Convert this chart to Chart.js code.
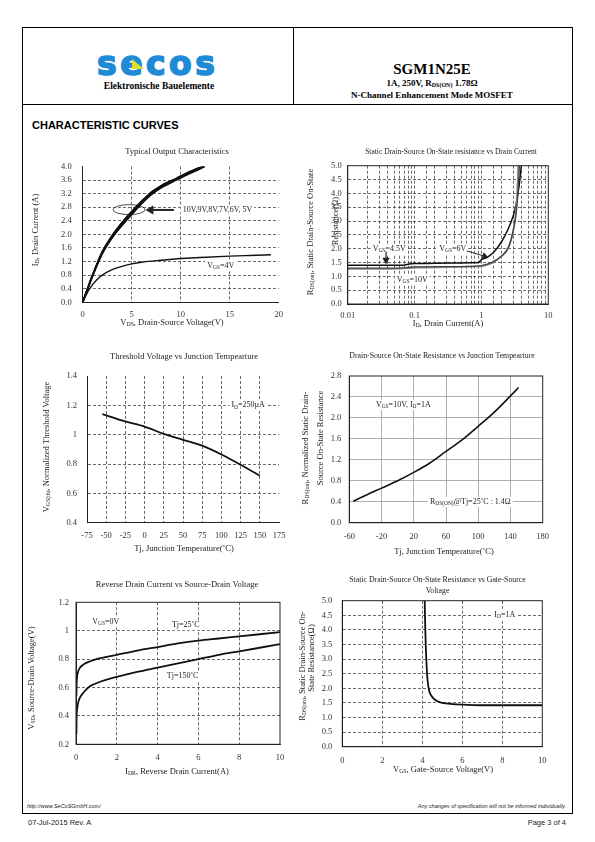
<!DOCTYPE html>
<html>
<head>
<meta charset="utf-8">
<script src="https://cdn.jsdelivr.net/npm/chart.js@4.4.1/dist/chart.umd.min.js"></script>
<style>
  html, body { margin: 0; padding: 0; background: #fff; }
  body { width: 595px; height: 842px; position: relative; overflow: hidden; font-family: "Liberation Serif", serif; color: #000; }
  .abs { position: absolute; white-space: nowrap; }
  .frame { left: 22px; top: 27px; width: 551px; height: 787px; border: 1px solid #000; box-sizing: border-box; }
  .hline { left: 22px; top: 104px; width: 551px; height: 1px; background: #000; }
  .vline { left: 293px; top: 27px; width: 1px; height: 78px; background: #000; }
  .logo { left: 97px; top: 47px; font-family: "DejaVu Sans", sans-serif; font-weight: bold; font-size: 33px; line-height: 33px; letter-spacing: 3.5px; color: #1f8ad6; -webkit-text-stroke: 1.6px #1f8ad6; }
  .tri { left: 132px; top: 59px; width: 12px; height: 10px; background: #e4dd2c; clip-path: polygon(0 0, 100% 100%, 0 100%); }
  .sub-logo { left: 159px; top: 86px; transform: translate(-50%, -50%); font-weight: bold; font-size: 9.5px; }
  .part { left: 432px; top: 69px; transform: translate(-50%, -50%); font-weight: bold; font-size: 15px; }
  .spec { left: 432px; transform: translate(-50%, -50%); font-weight: bold; font-size: 9px; }
  .spec sub { font-size: 6px; vertical-align: -1px; }
  .section { left: 32px; top: 119px; font-family: "Liberation Sans", sans-serif; font-weight: bold; font-size: 11px; }
  .foot-i { top: 803px; font-family: "Liberation Sans", sans-serif; font-style: italic; font-size: 5.5px; color: #222; }
  .foot { top: 818px; font-family: "Liberation Sans", sans-serif; font-size: 7.5px; color: #222; }
  canvas { position: absolute; }
</style>
</head>
<body>
<div class="abs frame"></div>
<div class="abs hline"></div>
<div class="abs vline"></div>
<div class="abs logo">secos</div>
<div class="abs tri"></div>
<div class="abs sub-logo">Elektronische Bauelemente</div>
<div class="abs part">SGM1N25E</div>
<div class="abs spec" style="top:83px">1A, 250V, R<sub>DS(ON)</sub> 1.78&Omega;</div>
<div class="abs spec" style="top:95px">N-Channel Enhancement Mode MOSFET</div>
<div class="abs section">CHARACTERISTIC CURVES</div>

<canvas id="c1"></canvas>
<canvas id="c2"></canvas>
<canvas id="c3"></canvas>
<canvas id="c4"></canvas>
<canvas id="c5"></canvas>
<canvas id="c6"></canvas>

<div class="abs foot-i" style="left:27px">http://www.SeCoSGmbH.com/</div>
<div class="abs foot-i" style="right:29px">Any changes of specification will not be informed individually.</div>
<div class="abs foot" style="left:28px">07-Jul-2015 Rev. A</div>
<div class="abs foot" style="right:29px">Page 3 of 4</div>

<script>
// ---------- data ----------
// Typical Output Characteristics (VDS in V, ID in A)
const vdsSat = [0, 1, 2, 3, 4, 5, 6, 7, 8, 9, 10, 11, 12, 12.4];
const id10V = [0, 0.80, 1.48, 1.93, 2.30, 2.63, 2.93, 3.18, 3.37, 3.52, 3.69, 3.85, 3.97, 4.00];
const id9V  = [0, 0.78, 1.45, 1.95, 2.33, 2.65, 2.96, 3.22, 3.40, 3.55, 3.70, 3.84, 3.96, 4.00];
const id8V  = [0, 0.80, 1.50, 1.97, 2.35, 2.68, 2.98, 3.24, 3.43, 3.57, 3.72, 3.86, 3.98, 4.00];
const id7V  = [0, 0.79, 1.46, 1.92, 2.28, 2.61, 2.95, 3.25, 3.42, 3.54, 3.66, 3.80, 3.93, 4.00];
const id6V  = [0, 0.77, 1.44, 1.90, 2.27, 2.60, 2.90, 3.20, 3.44, 3.58, 3.68, 3.82, 3.95, 4.00];
const id5V  = [0, 0.76, 1.43, 1.90, 2.26, 2.58, 2.90, 3.17, 3.38, 3.56, 3.71, 3.84, 3.96, 4.00];
const vdsLin = [0, 0.5, 1, 1.5, 2, 3, 4, 5, 6, 8, 10, 12, 15, 17, 19.2];
const id4V  = [0, 0.30, 0.52, 0.68, 0.80, 0.96, 1.06, 1.13, 1.18, 1.24, 1.29, 1.32, 1.36, 1.38, 1.40];

// On-resistance vs drain current (ID in A, RDS in ohm)
const idA45 = [0.01, 0.02, 0.04, 0.065, 0.08, 0.1, 0.2, 0.4, 0.7, 0.9, 1.0, 1.2, 1.5, 2.0, 2.5, 3.0, 3.3, 3.6, 3.95];
const rds45 = [1.40, 1.40, 1.40, 1.40, 1.44, 1.46, 1.47, 1.48, 1.49, 1.50, 1.60, 1.68, 1.85, 2.25, 2.70, 3.20, 3.60, 4.15, 5.00];
const idA6  = [0.01, 0.03, 0.06, 0.08, 0.1, 0.3, 0.7, 1.0, 1.3, 1.6, 2.0, 2.5, 2.8, 3.1, 3.35, 3.55, 3.7];
const rds6  = [1.30, 1.30, 1.30, 1.32, 1.34, 1.35, 1.36, 1.39, 1.46, 1.57, 1.74, 2.02, 2.36, 2.85, 3.40, 4.20, 5.00];
const idA10 = [0.01, 0.03, 0.06, 0.08, 0.1, 0.3, 0.7, 1.0, 1.3, 1.6, 2.0, 2.5, 2.8, 3.1, 3.3, 3.45, 3.55];
const rds10 = [1.27, 1.27, 1.28, 1.30, 1.32, 1.33, 1.35, 1.37, 1.44, 1.55, 1.72, 2.00, 2.35, 2.85, 3.40, 4.20, 5.00];
const logLabels = [0.01, 0.1, 1, 10];

// Threshold voltage vs junction temperature
const tjVth = [-55, -25, 0, 25, 50, 75, 100, 125, 150];
const vthNorm = [1.14, 1.09, 1.055, 1.005, 0.965, 0.925, 0.865, 0.795, 0.72];

// On-resistance vs junction temperature
const tjRds = [-55, -40, -20, 0, 20, 40, 60, 80, 100, 120, 140, 150];
const rdsNorm = [0.41, 0.52, 0.66, 0.80, 0.96, 1.14, 1.36, 1.58, 1.84, 2.11, 2.42, 2.58];

// Reverse drain current vs source-drain voltage
const idr = [0.02, 0.03, 0.05, 0.1, 0.2, 0.4, 0.7, 1, 1.5, 2, 3, 4, 5, 6, 7, 8, 9, 10];
const vsd25  = [0.54, 0.62, 0.67, 0.71, 0.74, 0.765, 0.785, 0.80, 0.815, 0.83, 0.86, 0.885, 0.91, 0.93, 0.945, 0.96, 0.975, 0.99];
const vsd150 = [0.27, 0.40, 0.44, 0.49, 0.53, 0.57, 0.61, 0.63, 0.655, 0.675, 0.71, 0.74, 0.77, 0.80, 0.83, 0.855, 0.88, 0.905];

// On-resistance vs gate-source voltage
const vgs = [4.12, 4.15, 4.2, 4.26, 4.35, 4.47, 4.65, 4.9, 5.4, 6, 7, 8, 9, 10];
const rdsVgs = [5.0, 4.0, 3.0, 2.3, 1.9, 1.73, 1.6, 1.52, 1.47, 1.44, 1.42, 1.42, 1.42, 1.42];

// ---------- helpers ----------
const serif = '"Liberation Serif", "Times New Roman", serif';

function series(xs, ys) {
  return xs.map((x, i) => ({ x: x, y: ys[i] }));
}

function lineSet(xs, ys, color, width) {
  return {
    data: series(xs, ys), showLine: true, borderColor: color, borderWidth: width,
    pointRadius: 0, cubicInterpolationMode: 'monotone', fill: false
  };
}

// text with "_{...}" subscripts
function richParts(str) {
  return str.split(/_\{([^}]*)\}/);
}
function richWidth(ctx, str, size) {
  let w = 0;
  richParts(str).forEach((p, i) => {
    ctx.font = (i % 2 ? size * 0.68 : size) + 'px ' + serif;
    w += ctx.measureText(p).width;
  });
  return w;
}
function richText(ctx, str, x, y, size, align) {
  const w = richWidth(ctx, str, size);
  let cx = align === 'center' ? x - w / 2 : (align === 'right' ? x - w : x);
  ctx.textAlign = 'left';
  ctx.textBaseline = 'middle';
  richParts(str).forEach((p, i) => {
    ctx.font = (i % 2 ? size * 0.68 : size) + 'px ' + serif;
    ctx.fillText(p, cx, i % 2 ? y + size * 0.22 : y);
    cx += ctx.measureText(p).width;
  });
  return w;
}

function arrow(ctx, x1, y1, x2, y2, w) {
  const a = Math.atan2(y2 - y1, x2 - x1);
  const hl = 4 + w * 2, hw = 2.5 + w;
  ctx.lineWidth = w;
  ctx.beginPath();
  ctx.moveTo(x1, y1);
  ctx.lineTo(x2 - Math.cos(a) * hl * 0.8, y2 - Math.sin(a) * hl * 0.8);
  ctx.stroke();
  ctx.beginPath();
  ctx.moveTo(x2, y2);
  ctx.lineTo(x2 - Math.cos(a) * hl - Math.sin(a) * hw, y2 - Math.sin(a) * hl + Math.cos(a) * hw);
  ctx.lineTo(x2 - Math.cos(a) * hl + Math.sin(a) * hw, y2 - Math.sin(a) * hl - Math.cos(a) * hw);
  ctx.closePath();
  ctx.fill();
}

const decor = {
  id: 'decor',
  beforeDatasetsDraw(chart, args, o) {
    const ctx = chart.ctx, sx = chart.scales.x, sy = chart.scales.y;
    ctx.save();
    (o.notes || []).forEach(n => {
      const px = sx.getPixelForValue(n.x), py = sy.getPixelForValue(n.y);
      const size = n.size || 8;
      const w = richWidth(ctx, n.text, size);
      if (n.bg) {
        ctx.fillStyle = '#fff';
        ctx.fillRect(px - 2, py - size * 0.6, w + 4, size * 1.25);
      }
      ctx.fillStyle = '#222';
      richText(ctx, n.text, px, py, size, 'left');
    });
    ctx.strokeStyle = '#222';
    ctx.fillStyle = '#222';
    (o.ellipses || []).forEach(e => {
      ctx.lineWidth = 0.8;
      ctx.beginPath();
      ctx.ellipse(sx.getPixelForValue(e.x), sy.getPixelForValue(e.y), e.rx, e.ry, 0, 0, Math.PI * 2);
      ctx.stroke();
    });
    ctx.restore();
  },
  afterDatasetsDraw(chart, args, o) {
    const ctx = chart.ctx, a = chart.chartArea, sx = chart.scales.x, sy = chart.scales.y;
    ctx.save();
    ctx.strokeStyle = '#222';
    ctx.fillStyle = '#222';
    (o.arrows || []).forEach(r => {
      arrow(ctx, sx.getPixelForValue(r.x1), sy.getPixelForValue(r.y1),
        sx.getPixelForValue(r.x2), sy.getPixelForValue(r.y2), r.w || 1);
    });
    if (o.box) {
      ctx.lineWidth = 1;
      ctx.strokeRect(a.left, a.top, a.right - a.left, a.bottom - a.top);
    }
    ctx.restore();
  },
  afterDraw(chart, args, o) {
    const ctx = chart.ctx;
    ctx.save();
    ctx.fillStyle = '#222';
    (o.texts || []).forEach(t => {
      ctx.save();
      ctx.translate(t.x - o.at[0], t.y - o.at[1]);
      if (t.rot) ctx.rotate(-Math.PI / 2);
      richText(ctx, t.text, 0, 0, t.size, 'center');
      ctx.restore();
    });
    ctx.restore();
  }
};

// canvas box [x, y, w, h] and plot area [left, top, right, bottom], page pixels
function place(id, cv, plot) {
  const el = document.getElementById(id);
  el.width = cv[2];
  el.height = cv[3];
  el.style.left = cv[0] + 'px';
  el.style.top = cv[1] + 'px';
  return {
    el: el, at: [cv[0], cv[1]],
    yW: plot[0] - cv[0], xH: cv[1] + cv[3] - plot[3],
    pad: { left: 0, top: plot[1] - cv[1], right: cv[0] + cv[2] - plot[2], bottom: 0 }
  };
}

function axis(c, horizontal, size) {
  const edge = v => Math.abs(v - c.min) < 1e-9 * Math.max(1, Math.abs(c.min)) ||
                    Math.abs(v - c.max) < 1e-9 * Math.max(1, Math.abs(c.max));
  return {
    type: c.type || 'linear',
    min: c.min, max: c.max,
    ticks: {
      stepSize: c.step, autoSkip: false, maxRotation: 0, padding: c.pad,
      color: '#333', font: { family: serif, size: 8.5 },
      callback: c.fmt
    },
    grid: {
      drawTicks: false, lineWidth: c.gridWidth || 0.8,
      color: ctx => (ctx.tick && edge(ctx.tick.value)) ? 'rgba(0,0,0,0)' : (c.gridColor || '#444')
    },
    border: { color: '#222', width: 1, dash: c.dash === undefined ? [3, 2] : c.dash },
    afterFit: s => { if (horizontal) s.height = size; else s.width = size; }
  };
}

function makeChart(p, datasets, xc, yc, deco) {
  deco.at = p.at;
  return new Chart(p.el, {
    type: 'scatter',
    data: { datasets: datasets },
    options: {
      responsive: false, animation: false,
      layout: { padding: p.pad },
      scales: { x: axis(xc, true, p.xH), y: axis(yc, false, p.yW) },
      plugins: { legend: { display: false }, tooltip: { enabled: false }, decor: deco }
    },
    plugins: [decor]
  });
}

const oneDec = v => v.toFixed(1);
const plain = v => String(+v.toFixed(2));

// ---------- 1: Typical Output Characteristics ----------
const p1 = place('c1', [25, 138, 272, 200], [82.7, 166.5, 278.7, 302.3]);
makeChart(p1, [
  lineSet(vdsSat, id10V, '#111', 1.5),
  lineSet(vdsSat, id9V, '#111', 1.5),
  lineSet(vdsSat, id8V, '#111', 1.5),
  lineSet(vdsSat, id7V, '#111', 1.5),
  lineSet(vdsSat, id6V, '#111', 1.5),
  lineSet(vdsSat, id5V, '#111', 1.5),
  lineSet(vdsLin, id4V, '#111', 1.4)
], { min: 0, max: 20, step: 5, pad: 7, fmt: plain },
   { min: 0, max: 4, step: 0.4, pad: 11, fmt: oneDec },
{
  notes: [
    { x: 10.2, y: 2.72, text: '10V,9V,8V,7V,6V, 5V', bg: true },
    { x: 12.7, y: 1.08, text: 'V_{GS}=4V', bg: true }
  ],
  ellipses: [{ x: 4.73, y: 2.73, rx: 16, ry: 5 }],
  arrows: [{ x1: 9.3, y1: 2.72, x2: 6.4, y2: 2.72, w: 2 }],
  texts: [
    { x: 177, y: 152, text: 'Typical Output Characteristics', size: 8.5 },
    { x: 172, y: 322.5, text: 'V_{DS}, Drain-Source Voltage(V)', size: 8.5 },
    { x: 36, y: 230, text: 'I_{D}, Drain Current (A)', size: 8.5, rot: true }
  ]
});

// ---------- 2: On-resistance vs drain current ----------
const p2 = place('c2', [298, 138, 272, 200], [347.7, 165.7, 548.3, 304]);
makeChart(p2, [
  lineSet(idA6, rds6, '#444', 1.3),
  lineSet(idA10, rds10, '#8c8c8c', 1.8),
  lineSet(idA45, rds45, '#111', 1.5)
], {
  type: 'logarithmic', min: 0.01, max: 10, pad: 7,
  fmt: v => { const l = logLabels.find(t => Math.abs(t - v) / t < 1e-6); return l === undefined ? '' : String(l); }
}, { min: 0, max: 5, step: 0.5, pad: 6, fmt: oneDec },
{
  box: true,
  notes: [
    { x: 0.0236, y: 2.0, text: 'V_{GS}=4.5V', bg: true },
    { x: 0.234, y: 2.0, text: 'V_{GS}=6V', bg: true },
    { x: 0.054, y: 0.87, text: 'V_{GS}=10V', bg: true }
  ],
  arrows: [
    { x1: 0.0374, y1: 1.9, x2: 0.0374, y2: 1.44, w: 1.2 },
    { x1: 0.6, y1: 1.92, x2: 1.27, y2: 1.69, w: 1 }
  ],
  texts: [
    { x: 451, y: 152, text: 'Static Drain-Source On-State resistance vs Drain Current', size: 7.5 },
    { x: 448, y: 324, text: 'I_{D}, Drain Current(A)', size: 8.5 },
    { x: 310.5, y: 232, text: 'R_{DS(on)}, Static Drain-Source On-State', size: 8.5, rot: true },
    { x: 336, y: 221, text: 'Resistance(\u03A9)', size: 8.5, rot: true }
  ]
});

// ---------- 3: Threshold voltage vs junction temperature ----------
const p3 = place('c3', [25, 345, 272, 215], [87, 376, 279, 522.7]);
makeChart(p3, [
  lineSet(tjVth, vthNorm, '#111', 1.8)
], { min: -75, max: 175, step: 25, pad: 8, fmt: plain },
   { min: 0.4, max: 1.4, step: 0.2, pad: 10, fmt: plain },
{
  notes: [{ x: 113, y: 1.2, text: 'I_{D}=250\u00B5A', bg: true }],
  texts: [
    { x: 184, y: 357, text: 'Threshold Voltage vs Junction Tempearture', size: 8.5 },
    { x: 184, y: 549, text: 'Tj, Junction Temperature(\u02DAC)', size: 8.5 },
    { x: 46.5, y: 447, text: 'V_{GS(th)}, Normalized Threshold Voltage', size: 8.5, rot: true }
  ]
});

// ---------- 4: On-resistance vs junction temperature ----------
const p4 = place('c4', [298, 345, 272, 215], [349.3, 376, 542.7, 522.7]);
makeChart(p4, [
  lineSet(tjRds, rdsNorm, '#111', 1.6)
], { min: -60, max: 180, step: 40, pad: 9, fmt: plain, dash: [], gridColor: '#9a9a9a' },
   { min: 0, max: 2.8, step: 0.4, pad: 8, fmt: oneDec, dash: [], gridColor: '#9a9a9a' },
{
  box: true,
  notes: [
    { x: -27, y: 2.25, text: 'V_{GS}=10V, I_{D}=1A', bg: true },
    { x: 40, y: 0.4, text: 'R_{DS(ON)}@Tj=25\u02DAC : 1.4\u03A9', bg: true }
  ],
  texts: [
    { x: 442, y: 356, text: 'Drain-Source On-State Resistance vs Junction Tempearture', size: 7.8 },
    { x: 444, y: 551.5, text: 'Tj, Junction Temperature(\u02DAC)', size: 8.5 },
    { x: 306, y: 448, text: 'R_{DS(on)}, Normalized Static Drain-', size: 8.5, rot: true },
    { x: 320.5, y: 438, text: 'Source On-State Resistance', size: 8.5, rot: true }
  ]
});

// ---------- 5: Reverse drain current vs source-drain voltage ----------
const p5 = place('c5', [25, 570, 272, 215], [76, 602.3, 280, 744.3]);
makeChart(p5, [
  lineSet(idr, vsd25, '#111', 1.8),
  lineSet(idr, vsd150, '#111', 1.8)
], { min: 0, max: 10, step: 2, pad: 8, fmt: plain },
   { min: 0.2, max: 1.2, step: 0.2, pad: 7, fmt: plain },
{
  box: true,
  notes: [
    { x: 0.8, y: 1.064, text: 'V_{GS}=0V', bg: true },
    { x: 4.7, y: 1.04, text: 'Tj=25\u02DAC', bg: true },
    { x: 4.45, y: 0.68, text: 'Tj=150\u02DAC', bg: true }
  ],
  texts: [
    { x: 177, y: 585, text: 'Reverse Drain Current vs Source-Drain Voltage', size: 8.5 },
    { x: 177, y: 771.5, text: 'I_{DR}, Reverse Drain Current(A)', size: 8.5 },
    { x: 31.5, y: 678, text: 'V_{SD}, Source-Drain Voltage(V)', size: 8.5, rot: true }
  ]
});

// ---------- 6: On-resistance vs gate-source voltage ----------
const p6 = place('c6', [298, 570, 272, 215], [342.3, 600.7, 542.3, 746.7]);
makeChart(p6, [
  lineSet(vgs, rdsVgs, '#111', 1.8)
], { min: 0, max: 10, step: 2, pad: 9, fmt: plain },
   { min: 0, max: 5, step: 0.5, pad: 10, fmt: oneDec },
{
  box: true,
  notes: [{ x: 7.6, y: 4.5, text: 'I_{D}=1A', bg: true }],
  texts: [
    { x: 437.5, y: 580, text: 'Static Drain-Source On-State Resistance vs Gate-Source', size: 7.8 },
    { x: 437.5, y: 591, text: 'Voltage', size: 7.8 },
    { x: 443, y: 769.5, text: 'V_{GS}, Gate-Source Voltage(V)', size: 8.5 },
    { x: 303, y: 666, text: 'R_{DS(on)}, Static Drain-Source On-', size: 8.5, rot: true },
    { x: 312, y: 658, text: 'State Resistance(\u03A9)', size: 8.5, rot: true }
  ]
});
</script>
</body>
</html>
